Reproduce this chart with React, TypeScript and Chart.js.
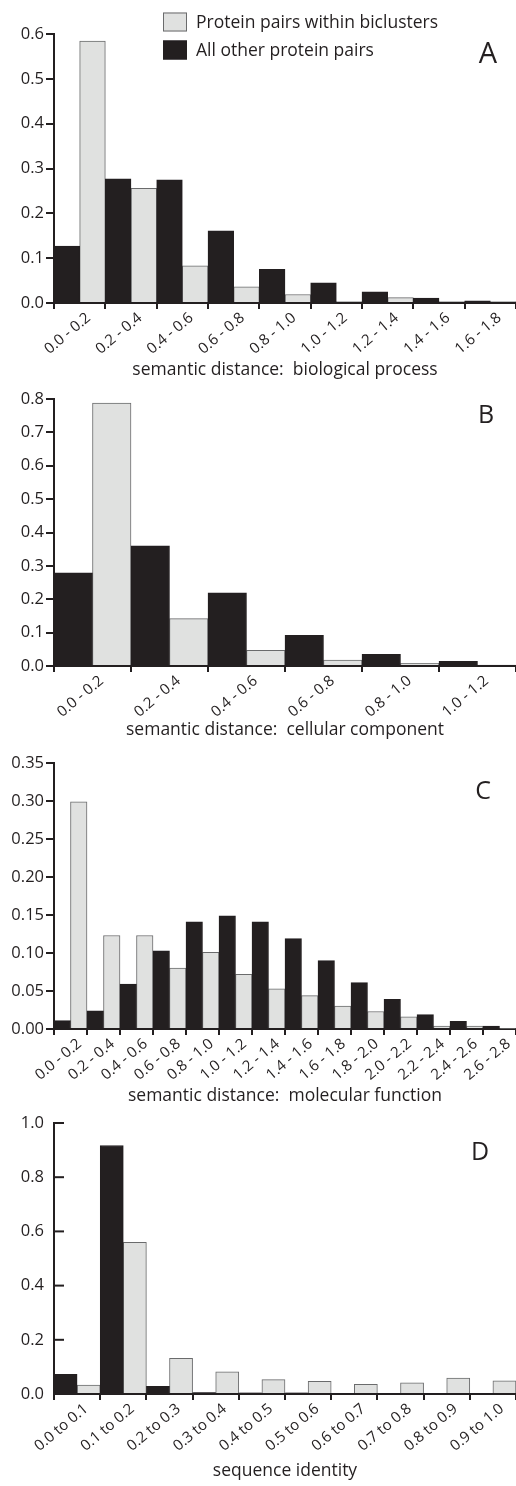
import React, { useEffect, useRef } from "react";
import { Chart, registerables } from "chart.js";

Chart.register(...registerables);

const FONT = '"Open Sans", "DejaVu Sans", sans-serif';
const INK = "#231f20";
const GRAY_FILL = "#e0e1e0";
const GRAY_EDGE = "#6a6b6c";

const SERIES_WITHIN = "Protein pairs within biclusters";
const SERIES_OTHER = "All other protein pairs";

// Panel A: biological process
const A_CATEGORIES = ["0.0 - 0.2", "0.2 - 0.4", "0.4 - 0.6", "0.6 - 0.8", "0.8 - 1.0", "1.0 - 1.2", "1.2 - 1.4", "1.4 - 1.6", "1.6 - 1.8"];
const A_OTHER = [0.127, 0.277, 0.275, 0.161, 0.075, 0.045, 0.025, 0.011, 0.005];
const A_WITHIN = [0.584, 0.256, 0.083, 0.036, 0.019, 0.003, 0.012, 0.003, 0.003];
const A_Y_TICKS = [0, 0.1, 0.2, 0.3, 0.4, 0.5, 0.6];

// Panel B: cellular component
const B_CATEGORIES = ["0.0 - 0.2", "0.2 - 0.4", "0.4 - 0.6", "0.6 - 0.8", "0.8 - 1.0", "1.0 - 1.2"];
const B_OTHER = [0.279, 0.36, 0.219, 0.092, 0.035, 0.014];
const B_WITHIN = [0.788, 0.142, 0.047, 0.018, 0.008, 0.003];
const B_Y_TICKS = [0, 0.1, 0.2, 0.3, 0.4, 0.5, 0.6, 0.7, 0.8];

// Panel C: molecular function
const C_CATEGORIES = ["0.0 - 0.2", "0.2 - 0.4", "0.4 - 0.6", "0.6 - 0.8", "0.8 - 1.0", "1.0 - 1.2", "1.2 - 1.4", "1.4 - 1.6", "1.6 - 1.8", "1.8 - 2.0", "2.0 - 2.2", "2.2 - 2.4", "2.4 - 2.6", "2.6 - 2.8"];
const C_OTHER = [0.011, 0.024, 0.059, 0.103, 0.141, 0.149, 0.141, 0.119, 0.09, 0.061, 0.039, 0.019, 0.01, 0.004];
const C_WITHIN = [0.299, 0.123, 0.123, 0.08, 0.101, 0.072, 0.053, 0.044, 0.03, 0.023, 0.016, 0.004, 0.004, 0.001];
const C_Y_TICKS = [0, 0.05, 0.1, 0.15, 0.2, 0.25, 0.3, 0.35];

// Panel D: sequence identity
const D_CATEGORIES = ["0.0 to 0.1", "0.1 to 0.2", "0.2 to 0.3", "0.3 to 0.4", "0.4 to 0.5", "0.5 to 0.6", "0.6 to 0.7", "0.7 to 0.8", "0.8 to 0.9", "0.9 to 1.0"];
const D_OTHER = [0.073, 0.917, 0.028, 0.005, 0.004, 0.004, 0.003, 0.003, 0.003, 0.003];
const D_WITHIN = [0.033, 0.56, 0.132, 0.082, 0.053, 0.047, 0.036, 0.041, 0.059, 0.049];
const D_Y_TICKS = [0, 0.2, 0.4, 0.6, 0.8, 1.0];

type PanelCfg = {
  top: number;
  height: number;
  padTop: number;
  xHeight: number;
  categories: string[];
  other: number[];
  within: number[];
  yTicks: number[];
  decimals: number;
  xTitle: string;
  letter: string;
  letterSize: number;
  letterX: number;
  letterY: number;
  legend: boolean;
  innerTicks: boolean;
};

const PANELS: PanelCfg[] = [
  { top: 0, height: 381, padTop: 34, xHeight: 78, categories: A_CATEGORIES, other: A_OTHER, within: A_WITHIN, yTicks: A_Y_TICKS, decimals: 1, xTitle: "semantic distance:  biological process", letter: "A", letterSize: 29, letterX: 488, letterY: 63, legend: true, innerTicks: false },
  { top: 381, height: 360, padTop: 18, xHeight: 75, categories: B_CATEGORIES, other: B_OTHER, within: B_WITHIN, yTicks: B_Y_TICKS, decimals: 1, xTitle: "semantic distance:  cellular component", letter: "B", letterSize: 25, letterX: 486, letterY: 42, legend: false, innerTicks: false },
  { top: 741, height: 366, padTop: 22, xHeight: 78, categories: C_CATEGORIES, other: C_OTHER, within: C_WITHIN, yTicks: C_Y_TICKS, decimals: 2, xTitle: "semantic distance:  molecular function", letter: "C", letterSize: 25, letterX: 483, letterY: 58, legend: false, innerTicks: false },
  { top: 1107, height: 375, padTop: 16, xHeight: 88, categories: D_CATEGORIES, other: D_OTHER, within: D_WITHIN, yTicks: D_Y_TICKS, decimals: 1, xTitle: "sequence identity", letter: "D", letterSize: 25, letterX: 480, letterY: 53, legend: false, innerTicks: true },
];

const decorPlugin = {
  id: "decor",
  afterDraw(chart: any, _args: any, opts: any) {
    const ctx = chart.ctx;
    ctx.save();
    ctx.fillStyle = INK;
    if (opts.letter) {
      ctx.font = `${opts.letterSize}px ${FONT}`;
      ctx.textAlign = "center";
      ctx.textBaseline = "alphabetic";
      ctx.fillText(opts.letter, opts.letterX, opts.letterY);
    }
    if (opts.legend) {
      const items = [1, 0].map((i) => chart.data.datasets[i]);
      const bx = 163;
      const rows = [22, 50];
      ctx.font = `17.5px ${FONT}`;
      ctx.textAlign = "left";
      ctx.textBaseline = "middle";
      items.forEach((ds: any, k: number) => {
        const cy = rows[k];
        ctx.fillStyle = ds.backgroundColor;
        ctx.fillRect(bx, cy - 9.5, 24, 19);
        ctx.strokeStyle = ds.borderColor;
        ctx.lineWidth = 1;
        ctx.strokeRect(bx + 0.5, cy - 9, 23, 18);
        ctx.fillStyle = INK;
        ctx.fillText(ds.label, bx + 33, cy + 1);
      });
    }
    if (opts.innerTicks) {
      const y = chart.scales.y;
      const left = chart.chartArea.left;
      ctx.strokeStyle = INK;
      ctx.lineWidth = 2;
      y.ticks.forEach((t: any) => {
        if (t.value === 0) return;
        const py = y.getPixelForValue(t.value);
        ctx.beginPath();
        ctx.moveTo(left - 1, py);
        ctx.lineTo(left + 10, py);
        ctx.stroke();
      });
    }
    ctx.restore();
  },
};

function Panel({ cfg }: { cfg: PanelCfg }) {
  const ref = useRef<HTMLCanvasElement | null>(null);
  useEffect(() => {
    if (!ref.current) return;
    const yMax = cfg.yTicks[cfg.yTicks.length - 1];
    const chart = new Chart(ref.current, {
      type: "bar",
      data: {
        labels: cfg.categories,
        datasets: [
          { label: SERIES_OTHER, data: cfg.other, backgroundColor: INK, borderColor: INK, borderWidth: 1, categoryPercentage: 1, barPercentage: 1 },
          { label: SERIES_WITHIN, data: cfg.within, backgroundColor: GRAY_FILL, borderColor: GRAY_EDGE, borderWidth: 1, categoryPercentage: 1, barPercentage: 1 },
        ],
      },
      options: {
        responsive: false,
        animation: false,
        devicePixelRatio: 1,
        layout: { padding: { top: cfg.padTop, left: 0, right: 0, bottom: 0 } },
        plugins: {
          legend: { display: false },
          tooltip: { enabled: false },
          decor: {
            letter: cfg.letter,
            letterSize: cfg.letterSize,
            letterX: cfg.letterX,
            letterY: cfg.letterY,
            legend: cfg.legend,
            innerTicks: cfg.innerTicks,
          },
        } as any,
        scales: {
          x: {
            grid: { display: true, offset: true, drawOnChartArea: false, drawTicks: true, tickLength: 6, color: INK, lineWidth: 2 },
            border: { display: true, color: INK, width: 2 },
            ticks: {
              autoSkip: false,
              minRotation: 40,
              maxRotation: 40,
              padding: 0,
              labelOffset: 9,
              color: INK,
              font: { family: FONT, size: 15 },
            },
            title: {
              display: true,
              text: cfg.xTitle,
              color: INK,
              font: { family: FONT, size: 17.5 },
              padding: { top: 0, bottom: 0 },
            },
            afterFit: (scale: any) => {
              scale.height = cfg.xHeight;
              scale.paddingLeft = 0;
              scale.paddingRight = 0;
            },
          },
          y: {
            min: 0,
            max: yMax,
            afterBuildTicks: (scale: any) => {
              scale.ticks = cfg.yTicks.map((v) => ({ value: v }));
            },
            grid: {
              display: true,
              drawOnChartArea: false,
              drawTicks: !cfg.innerTicks,
              tickLength: 8,
              color: INK,
              lineWidth: 2,
            },
            border: { display: true, color: INK, width: 2 },
            ticks: {
              padding: cfg.innerTicks ? 10 : 2,
              color: INK,
              font: { family: FONT, size: 16.5 },
              callback: (v: any) => Number(v).toFixed(cfg.decimals),
            },
            afterFit: (scale: any) => {
              scale.width = 54;
              scale.paddingTop = 0;
              scale.paddingBottom = 0;
            },
          },
        },
      },
      plugins: [decorPlugin],
    } as any);
    return () => chart.destroy();
  }, [cfg]);
  return (
    <canvas
      ref={ref}
      width={516}
      height={cfg.height}
      style={{ position: "absolute", left: 0, top: cfg.top, width: 516, height: cfg.height, display: "block" }}
    />
  );
}

export default function App() {
  return (
    <div style={{ position: "absolute", left: 0, top: 0, width: 516, height: 1486, background: "#fff" }}>
      {PANELS.map((p) => (
        <Panel key={p.letter} cfg={p} />
      ))}
    </div>
  );
}
